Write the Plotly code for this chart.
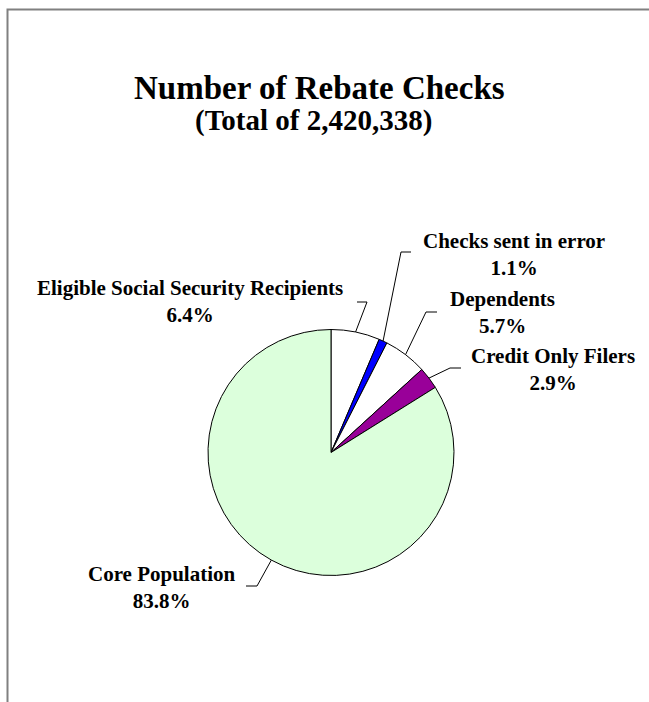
import math
import plotly.graph_objects as go

# ---- data ----
categories = ["Eligible Social Security Recipients", "Checks sent in error",
              "Dependents", "Credit Only Filers", "Core Population"]
percents = [6.4, 1.1, 5.7, 2.9, 83.8]
slice_colors = ["#FFFFFF", "#0000FF", "#FFFFFF", "#990099", "#DCFFDC"]
title_text = "Number of Rebate Checks"
subtitle_text = "(Total of 2,420,338)"

W, H = 649, 702
# pie geometry (pixels)
CX, CY, R = 331, 452.5, 123

# label layout: (text center x, block center y, elbow x, elbow y, end x, anchor fraction in slice)
label_layout = [
    (190, 301.5, 367, 302, 357, 0.5),
    (514, 254, 401, 252, 411, 0.5),
    (502, 312.5, 426, 312, 437, 0.5),
    (553, 369.5, 450, 368, 461, 0.5),
    (162, 587, 257, 586, 246, 0.5),
]

FONT = "Liberation Serif, Times New Roman, serif"

def px(x):
    return x / W

def py(y):
    return 1 - y / H

fig = go.Figure(go.Pie(
    labels=categories,
    values=percents,
    sort=False,
    direction="clockwise",
    rotation=0,
    marker=dict(colors=slice_colors, line=dict(color="black", width=1)),
    textinfo="none",
    hoverinfo="label+percent",
    showlegend=False,
    domain=dict(x=[px(CX - R), px(CX + R)], y=[py(CY + R), py(CY - R)]),
))

total = sum(percents)
shapes = []
annotations = []
cum = 0.0
for cat, val, lay in zip(categories, percents, label_layout):
    tx, ty, ex, ey, endx, frac = lay
    ang = math.radians((cum + val * frac) / total * 360)
    cum += val
    sx = CX + R * math.sin(ang)
    sy = CY - R * math.cos(ang)
    shapes.append(dict(type="path", xref="paper", yref="paper",
                       path=f"M {px(sx)},{py(sy)} L {px(ex)},{py(ey)} L {px(endx)},{py(ey)}",
                       line=dict(color="black", width=1)))
    annotations.append(dict(
        x=px(tx), y=py(ty), xref="paper", yref="paper",
        text=f"<b>{cat}<br>{val:.1f}%</b>", showarrow=False,
        xanchor="center", yanchor="middle", align="center",
        font=dict(family=FONT, size=21, color="black")))

# titles
annotations.append(dict(x=px(319), y=py(88), xref="paper", yref="paper",
                        text=f"<b>{title_text}</b>", showarrow=False,
                        xanchor="center", yanchor="middle",
                        font=dict(family=FONT, size=33, color="black")))
annotations.append(dict(x=px(313), y=py(121), xref="paper", yref="paper",
                        text=f"<b>{subtitle_text}</b>", showarrow=False,
                        xanchor="center", yanchor="middle",
                        font=dict(family=FONT, size=29, color="black")))

# frame (left and top border)
shapes.append(dict(type="path", xref="paper", yref="paper",
                   path=f"M {px(7.5)},{py(H + 2)} L {px(7.5)},{py(9.5)} L {px(W + 2)},{py(9.5)}",
                   line=dict(color="#808080", width=2)))

fig.update_layout(
    width=W, height=H, autosize=False,
    margin=dict(l=0, r=0, t=0, b=0),
    paper_bgcolor="white", plot_bgcolor="white",
    shapes=shapes, annotations=annotations,
)

fig.write_html("out.html")
